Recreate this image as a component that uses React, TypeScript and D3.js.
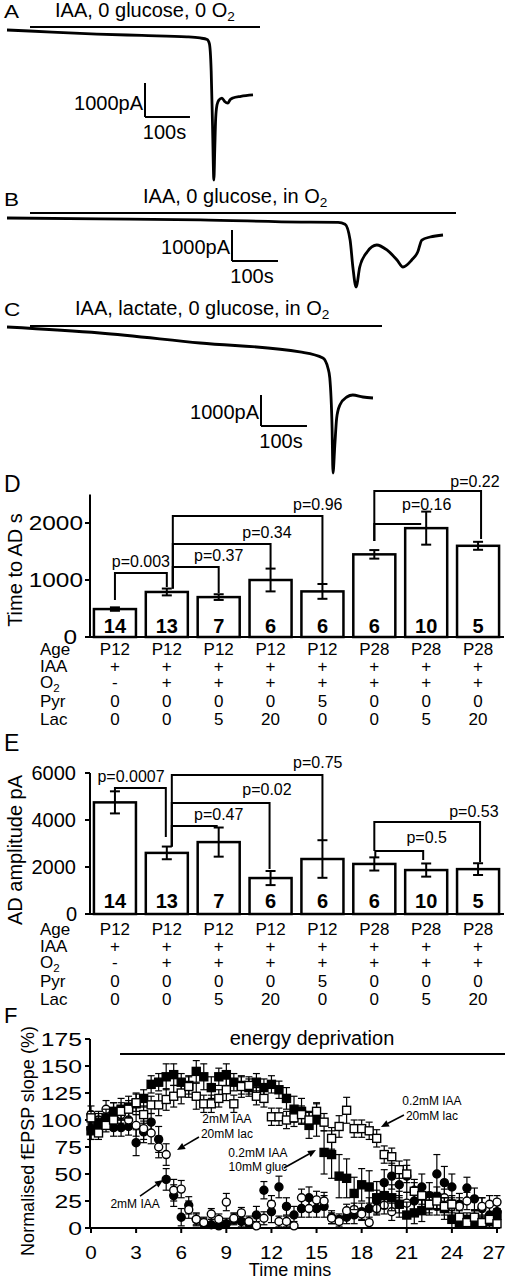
import React from "react";
import * as d3 from "d3";

// ---------------- Panels A–C: current traces [time s, current pA] ----------------
const traceA: [number, number][] = [[0,0],[100,-60],[200,-120],[300,-160],[400,-200],[429,-235],[445,-280],[450,-400],[454,-1200],[457,-2800],[460,-4410],[462,-3500],[464,-2600],[467,-2200],[471,-2060],[478,-2000],[484,-2100],[491,-2150],[496,-2050],[502,-2000],[520,-1950],[547,-1910]];
const traceB: [number, number][] = [[0,0],[200,-30],[420,-60],[640,-130],[720,-140],[735,-200],[746,-710],[752,-1580],[759,-2226],[767,-1580],[783,-1097],[804,-871],[826,-1032],[848,-1355],[861,-1580],[880,-1355],[893,-1097],[902,-710],[920,-613],[948,-548]];
const traceC: [number, number][] = [[0,0],[202,-194],[420,-516],[637,-806],[687,-1000],[698,-1323],[702,-1645],[707,-3258],[709,-4710],[713,-3806],[717,-2935],[724,-2516],[739,-2258],[752,-2194],[774,-2258],[796,-2290]];

// ---------------- Panels D–E: bar data ----------------
const nCounts = [14, 13, 7, 6, 6, 6, 10, 5];
const timeToAD = [490, 790, 700, 1000, 800, 1450, 1910, 1600];
const timeToADErr = [30, 60, 50, 200, 130, 75, 290, 70];
const adAmp = [4750, 2600, 3060, 1530, 2340, 2130, 1870, 1910];
const adAmpErr = [470, 270, 620, 300, 800, 280, 280, 250];
const ageRow = ["P12", "P12", "P12", "P12", "P12", "P28", "P28", "P28"];
const iaaRow = ["+", "+", "+", "+", "+", "+", "+", "+"];
const o2Row = ["-", "+", "+", "+", "+", "+", "+", "+"];
const pyrRow = ["0", "0", "0", "0", "5", "0", "0", "0"];
const lacRow = ["0", "0", "5", "20", "0", "0", "5", "20"];
const ticksD = [0, 1000, 2000];
const ticksE = [0, 2000, 4000, 6000];

type Bracket = { a: number; b: number; aOff?: number; bOff?: number; level: number; aEnd: number; bEnd: number; label: string; at: number; dy?: number };
const bracketsD: Bracket[] = [
  { a: 0, b: 1, level: 1123, aEnd: 650, bEnd: 877, label: "p=0.003", at: 0.5 },
  { a: 1, aOff: 6, b: 2, level: 1228, aEnd: 850, bEnd: 772, label: "p=0.37", at: 2.0 },
  { a: 1, aOff: 6, b: 3, level: 1632, aEnd: 850, bEnd: 1193, label: "p=0.34", at: 2.93 },
  { a: 1, aOff: 6, b: 4, level: 2123, aEnd: 850, bEnd: 930, label: "p=0.96", at: 3.91 },
  { a: 5, b: 6, bOff: -5, level: 1982, aEnd: 1684, bEnd: 1982, label: "p=0.16", at: 6.01, dy: -14 },
  { a: 5, b: 7, bOff: 3, level: 2561, aEnd: 1684, bEnd: 1720, label: "p=0.22", at: 6.94, dy: -4 },
];
const bracketsE: Bracket[] = [
  { a: 0, b: 1, bOff: -1, level: 5362, aEnd: 5191, bEnd: 3277, label: "p=0.0007", at: 0.31 },
  { a: 1, aOff: 5, b: 2, bOff: -2, level: 3745, aEnd: 2870, bEnd: 3700, label: "p=0.47", at: 2.0 },
  { a: 1, aOff: 5, b: 3, bOff: -1, level: 4723, aEnd: 2870, bEnd: 1915, label: "p=0.02", at: 2.93, dy: -8 },
  { a: 1, aOff: 5, b: 4, level: 5915, aEnd: 2870, bEnd: 3106, label: "p=0.75", at: 3.91, dy: -7 },
  { a: 5, aOff: 1, b: 6, bOff: -3, level: 2680, aEnd: 2425, bEnd: 2300, label: "p=0.5", at: 6.01, dy: -8 },
  { a: 5, b: 7, bOff: 2, level: 3915, aEnd: 2680, bEnd: 2213, label: "p=0.53", at: 6.92, dy: -5 },
];

// ---------------- Panel F: time course (every 0.5 min) ----------------
const timesF = [0,0.5,1,1.5,2,2.5,3,3.5,4,4.5,5,5.5,6,6.5,7,7.5,8,8.5,9,9.5,10,10.5,11,11.5,12,12.5,13,13.5,14,14.5,15,15.5,16,16.5,17,17.5,18,18.5,19,19.5,20,20.5,21,21.5,22,22.5,23,23.5,24,24.5,25,25.5,26,26.5,27];
const iaa2 = [92,95,100,93,93,94,79,89,98,82,45,30,10,21,8,4,3,2,4,8,6,4,12,35,15,38,20,12,18,28,18,20,10,8,10,12,15,18,25,42,48,40,48,25,38,30,50,42,38,22,37,27,18,12,15];
const iaa2Err = [10,8,8,8,8,8,12,10,8,12,10,10,8,8,6,5,5,5,5,5,5,5,8,8,10,10,8,8,8,10,8,10,6,5,6,8,8,10,10,12,12,12,15,10,12,12,18,15,12,10,10,10,10,8,8];
const iaa2Lac = [105,100,110,108,105,100,95,92,88,75,68,35,36,17,8,5,13,8,24,9,14,6,2,9,22,6,6,2,28,18,26,25,9,6,16,17,13,5,18,21,15,22,23,35,30,25,20,28,20,20,25,10,20,22,24];
const iaa2LacErr = [8,8,8,8,8,8,10,10,10,10,10,10,8,8,5,5,5,5,8,5,5,5,4,6,8,5,5,4,8,8,8,8,5,5,6,6,5,5,6,8,8,8,10,10,10,8,8,8,8,8,8,6,8,8,6];
const iaa02Gluc = [90,98,102,108,110,112,115,120,133,135,140,142,135,132,145,140,130,140,142,135,132,130,135,130,133,128,120,110,108,95,100,70,68,48,46,32,40,38,28,30,28,22,12,14,16,22,28,18,8,5,8,5,4,6,12];
const iaa02GlucErr = [8,8,8,8,10,10,10,8,8,8,12,10,8,8,10,12,10,8,10,8,8,8,8,8,8,8,10,12,12,12,15,20,22,20,18,15,15,15,15,12,12,12,12,10,10,10,10,10,8,6,6,6,6,6,6];
const iaa02Lac = [102,88,95,100,108,110,116,105,114,114,119,122,125,131,122,115,115,120,128,115,131,132,122,120,103,103,100,102,105,100,108,98,83,94,109,92,92,90,83,68,66,54,50,34,30,22,25,20,22,10,5,10,5,8,4];
const iaa02LacErr = [6,6,6,8,8,8,8,8,8,10,10,10,10,10,12,8,8,8,10,8,10,8,8,8,8,8,8,8,8,8,8,8,10,10,12,8,8,8,8,8,8,8,8,8,8,8,8,8,8,6,6,6,6,6,6];
const ticksFx = [0, 3, 6, 9, 12, 15, 18, 21, 24, 27];
const ticksFy = [0, 25, 50, 75, 100, 125, 150, 175];

const FONT = "'Liberation Sans', Arial, Helvetica, sans-serif";

function O2({ size }: { size: number }) {
  return (
    <>
      O<tspan fontSize={size * 0.68} dy={size * 0.22}>2</tspan>
    </>
  );
}

function TracePanel({ data, xr, yr, title, titleX, titleY, barX1, barX2, barY, corner, letter, letterY }: any) {
  const xs = d3.scaleLinear().domain([0, data[data.length - 1][0]]).range(xr);
  const minV = d3.min(data, (d: [number, number]) => d[1]) as number;
  const ys = d3.scaleLinear().domain([0, minV]).range(yr);
  const line = d3.line<[number, number]>().x((d) => xs(d[0])).y((d) => ys(d[1])).curve(d3.curveMonotoneX);
  const vLen = Math.abs(ys(-1000) - ys(0));
  const hLen = xs(100) - xs(0);
  const [cx, cy] = corner;
  return (
    <g>
      <text transform={`translate(4,${letterY}) scale(1.25,1)`} fontSize={18}>{letter}</text>
      <text x={titleX} y={titleY} fontSize={20}>{title}<O2 size={20} /></text>
      <line x1={barX1} x2={barX2} y1={barY} y2={barY} stroke="#000" strokeWidth={2} />
      <path d={line(data) || ""} fill="none" stroke="#000" strokeWidth={2.8} strokeLinejoin="round" />
      <line x1={cx} x2={cx} y1={cy - vLen} y2={cy} stroke="#000" strokeWidth={2} />
      <line x1={cx} x2={cx + hLen} y1={cy} y2={cy} stroke="#000" strokeWidth={2} />
      <text x={cx - 2} y={cy - 7} fontSize={20} textAnchor="end">1000pA</text>
      <text x={cx + hLen / 2 - 3} y={cy + 22} fontSize={20} textAnchor="middle">100s</text>
    </g>
  );
}

const xBand = d3.scaleBand<number>().domain(d3.range(8)).range([89, 504]).paddingInner(0.19).paddingOuter(0.095);
const center = (i: number) => (xBand(Math.floor(i)) as number) + xBand.bandwidth() / 2 + (i - Math.floor(i)) * xBand.step();

function BarPanel({ values, errs, y, ticks, brackets, tableY, tickScale, tickRight, ylabel, ylabelY, letter, letterY, nDy }: any) {
  const y0 = y(0);
  const top = y(y.domain()[1]);
  const rows: [React.ReactNode, string[]][] = [["Age", ageRow], ["IAA", iaaRow], [<O2 size={17} key="o" />, o2Row], ["Pyr", pyrRow], ["Lac", lacRow]];
  const rowOff = [0, 17, 33, 52, 70];
  return (
    <g>
      <text x={4} y={letterY} fontSize={23}>{letter}</text>
      <text transform={`translate(22,${ylabelY}) rotate(-90)`} fontSize={20} textAnchor="middle">{ylabel}</text>
      <line x1={90} x2={90} y1={top} y2={y0} stroke="#000" strokeWidth={2} />
      <line x1={87} x2={504} y1={y0} y2={y0} stroke="#000" strokeWidth={2} />
      {ticks.map((t: number) => (
        <g key={t}>
          <line x1={85} x2={90} y1={y(t)} y2={y(t)} stroke="#000" strokeWidth={2} />
          <text transform={`translate(${t === 0 ? 77 : tickRight},${y(t) + 7}) scale(${tickScale},1)`} fontSize={20} textAnchor="end">{t}</text>
        </g>
      ))}
      {values.map((v: number, i: number) => {
        const x = xBand(i) as number;
        const c = center(i);
        return (
          <g key={i}>
            <rect x={x} y={y(v)} width={xBand.bandwidth()} height={y0 - y(v)} fill="#fff" stroke="#000" strokeWidth={2.5} />
            <line x1={c} x2={c} y1={y(v + errs[i])} y2={y(v - errs[i])} stroke="#000" strokeWidth={2} />
            <line x1={c - 5} x2={c + 5} y1={y(v + errs[i])} y2={y(v + errs[i])} stroke="#000" strokeWidth={2} />
            <line x1={c - 5} x2={c + 5} y1={y(v - errs[i])} y2={y(v - errs[i])} stroke="#000" strokeWidth={2} />
            <text x={c} y={y0 - nDy} fontSize={20} fontWeight="bold" textAnchor="middle">{nCounts[i]}</text>
          </g>
        );
      })}
      {brackets.map((b: Bracket, k: number) => {
        const xa = center(b.a) + (b.aOff || 0);
        const xb = center(b.b) + (b.bOff || 0);
        return (
          <g key={k}>
            <path d={`M${xa},${y(b.aEnd)}V${y(b.level)}H${xb}V${y(b.bEnd)}`} fill="none" stroke="#000" strokeWidth={2} />
            <text x={center(b.at)} y={y(b.level) + (b.dy ?? -6)} fontSize={16} textAnchor="middle">{b.label}</text>
          </g>
        );
      })}
      {rows.map(([lab, vals], r) => (
        <g key={r}>
          <text x={40} y={tableY + rowOff[r]} fontSize={17}>{lab}</text>
          {vals.map((s, i) => (
            <text key={i} x={center(i)} y={tableY + rowOff[r]} fontSize={17} textAnchor="middle">{s}</text>
          ))}
        </g>
      ))}
    </g>
  );
}

function PanelF() {
  const x = d3.scaleLinear().domain([0, 27]).range([91, 497]);
  const y = d3.scaleLinear().domain([0, 175]).range([1228, 1039]);
  const series = [
    { v: iaa2, e: iaa2Err, shape: "circle", fill: "#000" },
    { v: iaa2Lac, e: iaa2LacErr, shape: "circle", fill: "#fff" },
    { v: iaa02Gluc, e: iaa02GlucErr, shape: "square", fill: "#000" },
    { v: iaa02Lac, e: iaa02LacErr, shape: "square", fill: "#fff" },
  ];
  const arrow = (t1: number, v1: number, t2: number, v2: number, key: string) => {
    const x1 = x(t1), y1 = y(v1), x2 = x(t2), y2 = y(v2);
    const ang = Math.atan2(y2 - y1, x2 - x1);
    const L = 8, W = 3.5;
    const bx = x2 - L * Math.cos(ang), by = y2 - L * Math.sin(ang);
    const px = -Math.sin(ang) * W, py = Math.cos(ang) * W;
    return (
      <g key={key}>
        <line x1={x1} y1={y1} x2={bx} y2={by} stroke="#000" strokeWidth={1.6} />
        <path d={`M${x2},${y2}L${bx + px},${by + py}L${bx - px},${by - py}Z`} fill="#000" />
      </g>
    );
  };
  return (
    <g>
      <text x={4} y={1023} fontSize={22}>F</text>
      <text transform={`translate(34,1141) rotate(-90)`} fontSize={18} textAnchor="middle">Normalised fEPSP slope (%)</text>
      <line x1={90} x2={90} y1={y(175)} y2={y(0)} stroke="#000" strokeWidth={2} />
      <line x1={89} x2={500} y1={y(0)} y2={y(0)} stroke="#000" strokeWidth={2} />
      {ticksFy.map((t) => (
        <g key={t}>
          <line x1={85} x2={90} y1={y(t)} y2={y(t)} stroke="#000" strokeWidth={2} />
          <text transform={`translate(82,${y(t) + 7}) scale(1.3,1)`} fontSize={19} textAnchor="end">{t}</text>
        </g>
      ))}
      {ticksFx.map((t) => (
        <g key={t}>
          <line x1={x(t)} x2={x(t)} y1={y(0)} y2={y(0) + 5} stroke="#000" strokeWidth={2} />
          <text transform={`translate(${Math.min(x(t), 494)},1259) scale(1.15,1)`} fontSize={18} textAnchor="middle">{t}</text>
        </g>
      ))}
      <text x={290} y={1276} fontSize={18} textAnchor="middle">Time  mins</text>
      <line x1={x(1.93)} x2={505} y1={y(161)} y2={y(161)} stroke="#000" strokeWidth={2} />
      <text x={x(14.7)} y={y(169)} fontSize={20} textAnchor="middle">energy deprivation</text>
      {series.map((s, si) => (
        <g key={si}>
          {s.v.map((v, i) => {
            const cx = x(timesF[i]);
            const top = y(Math.min(175, v + s.e[i]));
            const bot = y(Math.max(0, v - s.e[i]));
            return (
              <g key={i}>
                <line x1={cx} x2={cx} y1={top} y2={bot} stroke="#000" strokeWidth={1.2} />
                <line x1={cx - 3.5} x2={cx + 3.5} y1={top} y2={top} stroke="#000" strokeWidth={1.2} />
                <line x1={cx - 3.5} x2={cx + 3.5} y1={bot} y2={bot} stroke="#000" strokeWidth={1.2} />
                {s.shape === "circle" ? (
                  <circle cx={cx} cy={y(v)} r={4} fill={s.fill} stroke="#000" strokeWidth={1.4} />
                ) : (
                  <rect x={cx - 4} y={y(v) - 4} width={8} height={8} fill={s.fill} stroke="#000" strokeWidth={1.4} />
                )}
              </g>
            );
          })}
        </g>
      ))}
      <g fontSize={12} textAnchor="middle">
        <text x={x(9.04)} y={y(97.2)}>2mM IAA</text>
        <text x={x(9.04)} y={y(83.3)}>20mM lac</text>
        <text x={x(2.93)} y={y(18.5)}>2mM IAA</text>
        <text x={x(11.1)} y={y(65.7)}>0.2mM IAA</text>
        <text x={x(11.1)} y={y(52.8)}>10mM gluc</text>
        <text x={x(22.67)} y={y(113.9)}>0.2mM IAA</text>
        <text x={x(22.67)} y={y(100)}>20mM lac</text>
      </g>
      {arrow(7.18, 84.3, 5.72, 72.2, "a1")}
      {arrow(3.26, 29.6, 4.79, 44.4, "a2")}
      {arrow(12.83, 55.6, 14.96, 72.2, "a3")}
      {arrow(20.81, 104.6, 19.28, 93.5, "a4")}
    </g>
  );
}

export default function App() {
  const yD = d3.scaleLinear().domain([0, 2500]).range([637, 494.5]);
  const yE = d3.scaleLinear().domain([0, 6000]).range([914, 773]);
  return (
    <svg width={508} height={1280} style={{ position: "absolute", left: 0, top: 0, background: "#fff" }} fontFamily={FONT}>
      <rect width={508} height={1280} fill="#fff" />
      <TracePanel data={traceA} xr={[7, 253]} yr={[30, 180]} title="IAA, 0 glucose, 0 " titleX={55} titleY={17} barX1={30} barX2={260} barY={27} corner={[145, 117]} letter="A" letterY={18} />
      <TracePanel data={traceB} xr={[7, 443]} yr={[218, 287]} title="IAA, 0 glucose, in " titleX={143} titleY={203} barX1={30} barX2={456} barY={213} corner={[232, 261]} letter="B" letterY={206} />
      <TracePanel data={traceC} xr={[7, 373]} yr={[327, 473]} title="IAA, lactate, 0 glucose, in " titleX={75} titleY={315} barX1={30} barX2={382} barY={326} corner={[261, 426]} letter="C" letterY={316} />
      <BarPanel values={timeToAD} errs={timeToADErr} y={yD} ticks={ticksD} brackets={bracketsD} tableY={655} tickScale={1.22} tickRight={83} ylabel="Time to AD s" ylabelY={570} letter="D" letterY={492} nDy={4} />
      <BarPanel values={adAmp} errs={adAmpErr} y={yE} ticks={ticksE} brackets={bracketsE} tableY={935} tickScale={1.0} tickRight={76} ylabel="AD amplitude pA" ylabelY={850} letter="E" letterY={751} nDy={6} />
      <PanelF />
    </svg>
  );
}
